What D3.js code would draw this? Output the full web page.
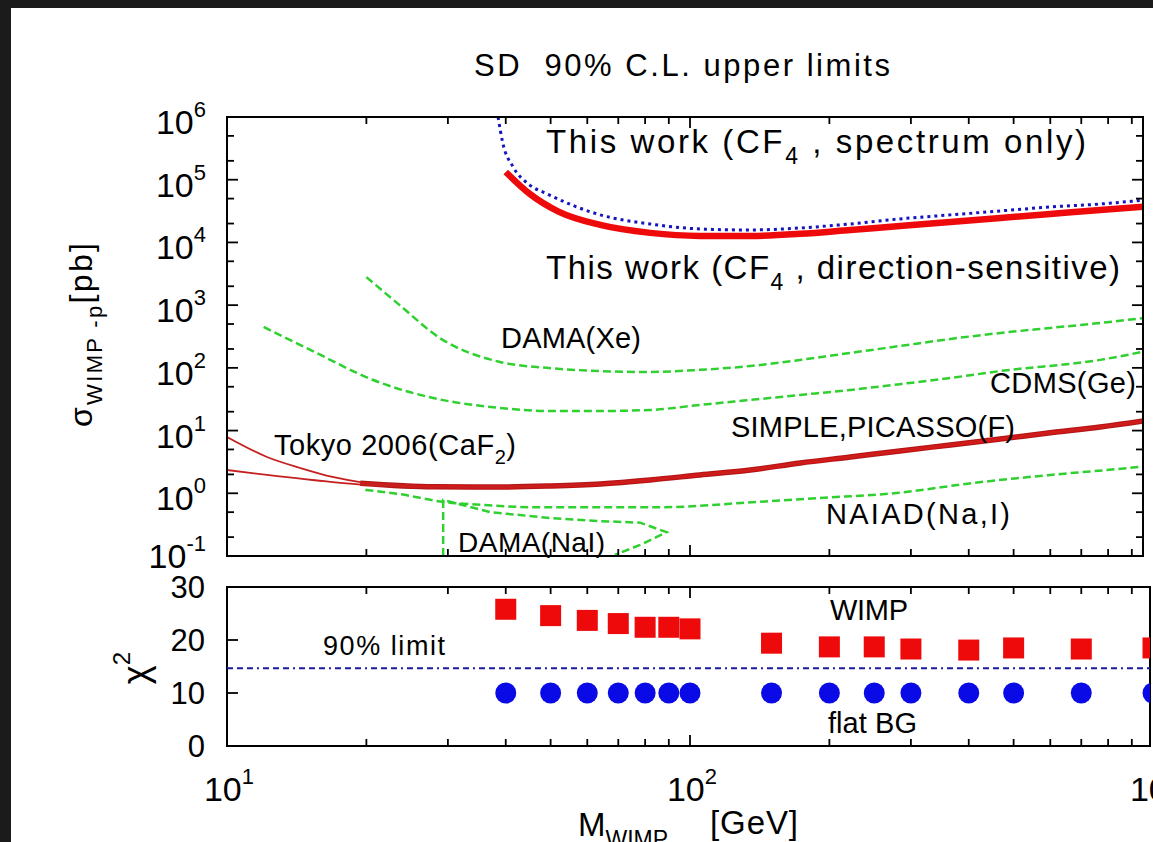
<!DOCTYPE html>
<html><head><meta charset="utf-8">
<script src="https://cdn.jsdelivr.net/npm/d3@7"></script>
<style>
html,body{margin:0;padding:0;background:#1b1b1b;overflow:hidden;}
svg{display:block;}
text{font-family:"Liberation Sans", Arial, Helvetica, sans-serif; fill:#000; white-space:pre;}
</style></head><body>
<svg id="c" width="1153" height="842"></svg>
<script>
// ---------- data ----------
const xDomain = [10, 1000];
const yTopDomain = [0.1, 1e6];
const yBotDomain = [0, 30];
const yTopTickExps = [-1, 0, 1, 2, 3, 4, 5, 6];
const yBotTicks = [0, 10, 20, 30];
const xTickExps = [1, 2, 3];

// This work (CF4, direction-sensitive) - thick red
const dirMass  = [40, 45, 52, 64, 82, 105, 135, 173, 222, 284, 365, 468, 600, 769, 1000];
const dirSigma = [1.33e5, 6.0e4, 3.1e4, 1.9e4, 1.42e4, 1.27e4, 1.27e4, 1.37e4, 1.58e4, 1.83e4, 2.12e4, 2.46e4, 2.85e4, 3.3e4, 3.8e4];
// This work (CF4, spectrum only) - blue dotted
const specMass  = [38.5, 39.4, 41.5, 45, 49, 64, 82, 105, 135, 173, 222, 284, 365, 468, 600, 769, 1000];
const specSigma = [1e6, 3.9e5, 1.6e5, 8.3e4, 6.0e4, 2.75e4, 1.97e4, 1.64e4, 1.58e4, 1.7e4, 1.97e4, 2.37e4, 2.75e4, 3.18e4, 3.68e4, 4.1e4, 4.9e4];
// DAMA(Xe)
const xeMass  = [20, 23.6, 28.8, 38.9, 49, 64, 82, 105, 135, 173, 222, 284, 365, 468, 600, 769, 1000];
const xeSigma = [2800, 1000, 300, 124, 100, 89, 86, 93, 107, 134, 173, 223, 289, 360, 433, 520, 650];
// CDMS(Ge)
const geMass  = [12, 15.6, 20.7, 27.9, 38.9, 50, 64, 82, 105, 135, 173, 222, 284, 365, 468, 769, 1000];
const geSigma = [449, 173, 64, 33, 23, 20.5, 20.5, 21.3, 25.6, 30.8, 37, 44.5, 55, 69, 89, 134, 195];
// Tokyo 2006 (CaF2) - two thin curves
const tokAMass  = [10, 12.2, 14.4, 16.9, 19.4, 23.6, 28, 39, 50, 64, 82, 105, 135, 173, 222, 284, 365, 468, 600, 769, 1000];
const tokASigma = [7.9, 3.79, 2.53, 1.82, 1.51, 1.36, 1.27, 1.26, 1.31, 1.41, 1.63, 1.96, 2.35, 3.04, 3.79, 4.73, 5.9, 7.35, 9.2, 11.4, 15];
const tokBMass  = [10, 12.2, 16.9, 20.1, 27.9, 39, 50, 64];
const tokBSigma = [2.35, 1.96, 1.51, 1.36, 1.26, 1.26, 1.31, 1.41];
// SIMPLE, PICASSO (F) - thick red
const picMass  = [19.4, 28, 39, 50, 64, 82, 105, 135, 173, 222, 284, 365, 468, 600, 769, 1000];
const picSigma = [1.45, 1.27, 1.26, 1.31, 1.41, 1.63, 1.96, 2.35, 3.04, 3.79, 4.73, 5.9, 7.35, 9.2, 11.4, 15];
// NAIAD(Na,I)
const naMass  = [19.9, 23.6, 29.3, 35.7, 45.8, 64, 88, 129, 190, 279, 409, 600, 929, 1000];
const naSigma = [1.13, 0.97, 0.73, 0.65, 0.60, 0.60, 0.60, 0.70, 0.84, 1.01, 1.46, 1.96, 2.63, 2.8];
// DAMA(NaI) contour
const naiMass  = [29.3, 29.3, 37, 50.4, 64, 78, 89, 78, 68.8];
const naiSigma = [0.1, 0.78, 0.50, 0.40, 0.36, 0.34, 0.24, 0.15, 0.104];

// chi^2 panel
const chiMass = [40, 50, 60, 70, 80, 90, 100, 150, 200, 250, 300, 400, 500, 700, 1000];
const chiWimp = [25.8, 24.6, 23.7, 23.1, 22.4, 22.4, 22.1, 19.4, 18.7, 18.7, 18.3, 18.1, 18.5, 18.3, 18.5];
const chiFlat = [10, 10, 10, 10, 10, 10, 10, 10, 10, 10, 10, 10, 10, 10, 10];
const chiLimit = 14.68;

// ---------- drawing ----------
const svg = d3.select("#c");
svg.append("rect").attr("x", 0).attr("y", 0).attr("width", 1153).attr("height", 842).attr("fill", "#1b1b1b");
svg.append("rect").attr("x", 11).attr("y", 8).attr("width", 1142).attr("height", 834).attr("fill", "#fff");

const X0 = 227, X1 = 1153;
const topR = 1143, botR = 1150;
const topT = 117, topB = 556, botT = 587, botB = 746;

const x = d3.scaleLog().domain(xDomain).range([X0, X1]);
const yT = d3.scaleLog().domain(yTopDomain).range([topB, topT]);
const yB = d3.scaleLinear().domain(yBotDomain).range([botB, botT]);

const defs = svg.append("defs");
defs.append("clipPath").attr("id", "clipTop").append("rect")
  .attr("x", X0).attr("y", topT).attr("width", topR - X0).attr("height", topB - topT);
defs.append("clipPath").attr("id", "clipBot").append("rect")
  .attr("x", X0).attr("y", botT).attr("width", botR - X0).attr("height", botB - botT);

function zip(a, b) { return a.map((v, i) => [v, b[i]]); }
const lineT = d3.line().x(d => x(d[0])).y(d => yT(d[1])).curve(d3.curveMonotoneX);
const lineLin = d3.line().x(d => x(d[0])).y(d => yT(d[1]));

const gT = svg.append("g").attr("clip-path", "url(#clipTop)");

const green = "#2fd02f";
function gpath(m, s, lin) {
  gT.append("path").attr("d", (lin ? lineLin : lineT)(zip(m, s)))
    .attr("fill", "none").attr("stroke", green).attr("stroke-width", 2.5)
    .attr("stroke-dasharray", "8,4");
}
gpath(xeMass, xeSigma);
gpath(geMass, geSigma);
gpath(naMass, naSigma);
gpath(naiMass, naiSigma, true);

// SIMPLE/PICASSO thick band
gT.append("path").attr("d", lineT(zip(picMass, picSigma)))
  .attr("fill", "none").attr("stroke", "#b01818").attr("stroke-width", 5.5);
gT.append("path").attr("d", lineT(zip(picMass, picSigma)))
  .attr("fill", "none").attr("stroke", "#f01010").attr("stroke-width", 3);
// Tokyo thin lines
gT.append("path").attr("d", lineT(zip(tokAMass, tokASigma)))
  .attr("fill", "none").attr("stroke", "#c42020").attr("stroke-width", 1.8);
gT.append("path").attr("d", lineT(zip(tokBMass, tokBSigma)))
  .attr("fill", "none").attr("stroke", "#c42020").attr("stroke-width", 1.8);

// This work
gT.append("path").attr("d", lineT(zip(dirMass, dirSigma)))
  .attr("fill", "none").attr("stroke", "#ee0a0a").attr("stroke-width", 6.5);
gT.append("path").attr("d", lineT(zip(specMass, specSigma)))
  .attr("fill", "none").attr("stroke", "#1414c0").attr("stroke-width", 3)
  .attr("stroke-dasharray", "3,4");

// ---------- frames & ticks ----------
const axG = svg.append("g").attr("stroke", "#000").attr("fill", "none");
axG.append("rect").attr("x", X0).attr("y", topT).attr("width", topR - X0).attr("height", topB - topT).attr("stroke-width", 2);
axG.append("rect").attr("x", X0).attr("y", botT).attr("width", botR - X0).attr("height", botB - botT).attr("stroke-width", 2);

const xTickVals = [];
for (let d = 10; d < 1000; d *= 10) for (let k = 1; k <= 9; k++) xTickVals.push(k * d);
xTickVals.push(1000);
function xTicks(yTop, yBot, right) {
  xTickVals.forEach(v => {
    const px = x(v);
    if (px <= X0 + 1 || px >= right - 1) return;
    const len = (Math.abs(Math.log10(v) - Math.round(Math.log10(v))) < 1e-9) ? 11 : 7;
    axG.append("line").attr("x1", px).attr("x2", px).attr("y1", yBot).attr("y2", yBot - len).attr("stroke-width", 1.8);
    axG.append("line").attr("x1", px).attr("x2", px).attr("y1", yTop).attr("y2", yTop + len).attr("stroke-width", 1.8);
  });
}
xTicks(topT, topB, topR);
xTicks(botT, botB, botR);

// log y ticks top panel
yTopTickExps.forEach(e => {
  [1, 2, 5].forEach(k => {
    const v = k * Math.pow(10, e);
    if (v > 1e6) return;
    const py = yT(v);
    const len = k === 1 ? 11 : 7;
    axG.append("line").attr("x1", X0).attr("x2", X0 + len).attr("y1", py).attr("y2", py).attr("stroke-width", 1.8);
    axG.append("line").attr("x1", topR).attr("x2", topR - len).attr("y1", py).attr("y2", py).attr("stroke-width", 1.8);
  });
});
yBotTicks.forEach(v => {
  const py = yB(v);
  axG.append("line").attr("x1", X0).attr("x2", X0 + 11).attr("y1", py).attr("y2", py).attr("stroke-width", 1.8);
});

// ---------- chi^2 panel marks ----------
const gB = svg.append("g").attr("clip-path", "url(#clipBot)");
gB.append("line").attr("x1", X0).attr("x2", botR).attr("y1", yB(chiLimit)).attr("y2", yB(chiLimit))
  .attr("stroke", "#1a1aa0").attr("stroke-width", 2).attr("stroke-dasharray", "6,4,6,4,6,4,2,4");
gB.selectAll("rect.w").data(zip(chiMass, chiWimp)).enter().append("rect")
  .attr("x", d => x(d[0]) - 10.5).attr("y", d => yB(d[1]) - 10.5)
  .attr("width", 21).attr("height", 21).attr("fill", "#ee0a0a");
gB.selectAll("circle.f").data(zip(chiMass, chiFlat)).enter().append("circle")
  .attr("cx", d => x(d[0])).attr("cy", d => yB(d[1])).attr("r", 10.5).attr("fill", "#0a0ae6");

// ---------- text ----------
function label(parts, opts) {
  const t = svg.append("text").attr("x", opts.x).attr("y", opts.y)
    .attr("font-size", opts.size).attr("text-anchor", opts.anchor || "start");
  if (opts.transform) t.attr("transform", opts.transform);
  let shift = 0;
  parts.forEach(p => {
    const [str, kind] = p;
    let target = 0, fs = opts.size;
    if (kind === "sub") { target = Math.round(opts.size * 0.32); fs = Math.round(opts.size * 0.7); }
    if (kind === "sup") { target = -Math.round(opts.size * 0.5); fs = Math.round(opts.size * 0.66); }
    t.append("tspan").attr("dy", target - shift).attr("font-size", fs).text(str);
    shift = target;
  });
  if (opts.len) t.attr("textLength", opts.len).attr("lengthAdjust", "spacing");
  return t;
}

label([["SD  90% C.L. upper limits"]], {x: 474, y: 76, size: 31, len: 416});
label([["This work (CF"], ["4", "sub"], [" , spectrum only)"]], {x: 546, y: 153, size: 33, len: 540});
label([["This work (CF"], ["4", "sub"], [" , direction-sensitive)"]], {x: 546, y: 279, size: 33, len: 574});
label([["DAMA(Xe)"]], {x: 501, y: 348, size: 29, len: 140});
label([["CDMS(Ge)"]], {x: 990, y: 393, size: 29, len: 146});
label([["SIMPLE,PICASSO(F)"]], {x: 731, y: 437, size: 29, len: 284});
label([["Tokyo 2006(CaF"], ["2", "sub"], [")"]], {x: 274, y: 455, size: 29, len: 242});
label([["NAIAD(Na,I)"]], {x: 826, y: 524, size: 29, len: 184});
label([["DAMA(NaI)"]], {x: 458, y: 552, size: 28, len: 147});

label([["WIMP"]], {x: 830, y: 620, size: 29, len: 78});
label([["90% limit"]], {x: 323, y: 655, size: 27, len: 122});
label([["flat BG"]], {x: 828, y: 733, size: 29, len: 89});

// y tick labels top (log)
yTopTickExps.forEach(e => {
  const dy = e === -1 ? 12 : 17;
  label([["10"], [String(e), "sup"]], {x: 206, y: yT(Math.pow(10, e)) + dy, size: 34, anchor: "end"});
});
// y tick labels bottom
yBotTicks.forEach(v => {
  label([[String(v)]], {x: 205, y: yB(v) + 11, size: 31, anchor: "end"});
});
// x tick labels
xTickExps.forEach(e => {
  label([["10"], [String(e), "sup"]], {x: x(Math.pow(10, e)) + 2, y: 801, size: 34, anchor: "middle"});
});

// axis titles
label([["M"], ["WIMP", "sub"]], {x: 578, y: 836, size: 33});
label([["[GeV]"]], {x: 710, y: 834, size: 33, len: 88});
label([["σ"], ["WIMP -p", "sub"], ["[pb]"]], {x: 0, y: 0, size: 32, anchor: "middle",
  transform: "translate(92,335) rotate(-90)", len: 184});
label([["χ"], ["2", "sup"]], {x: 0, y: 0, size: 36, anchor: "middle",
  transform: "translate(148,668) rotate(-90)"});
</script>
</body></html>
